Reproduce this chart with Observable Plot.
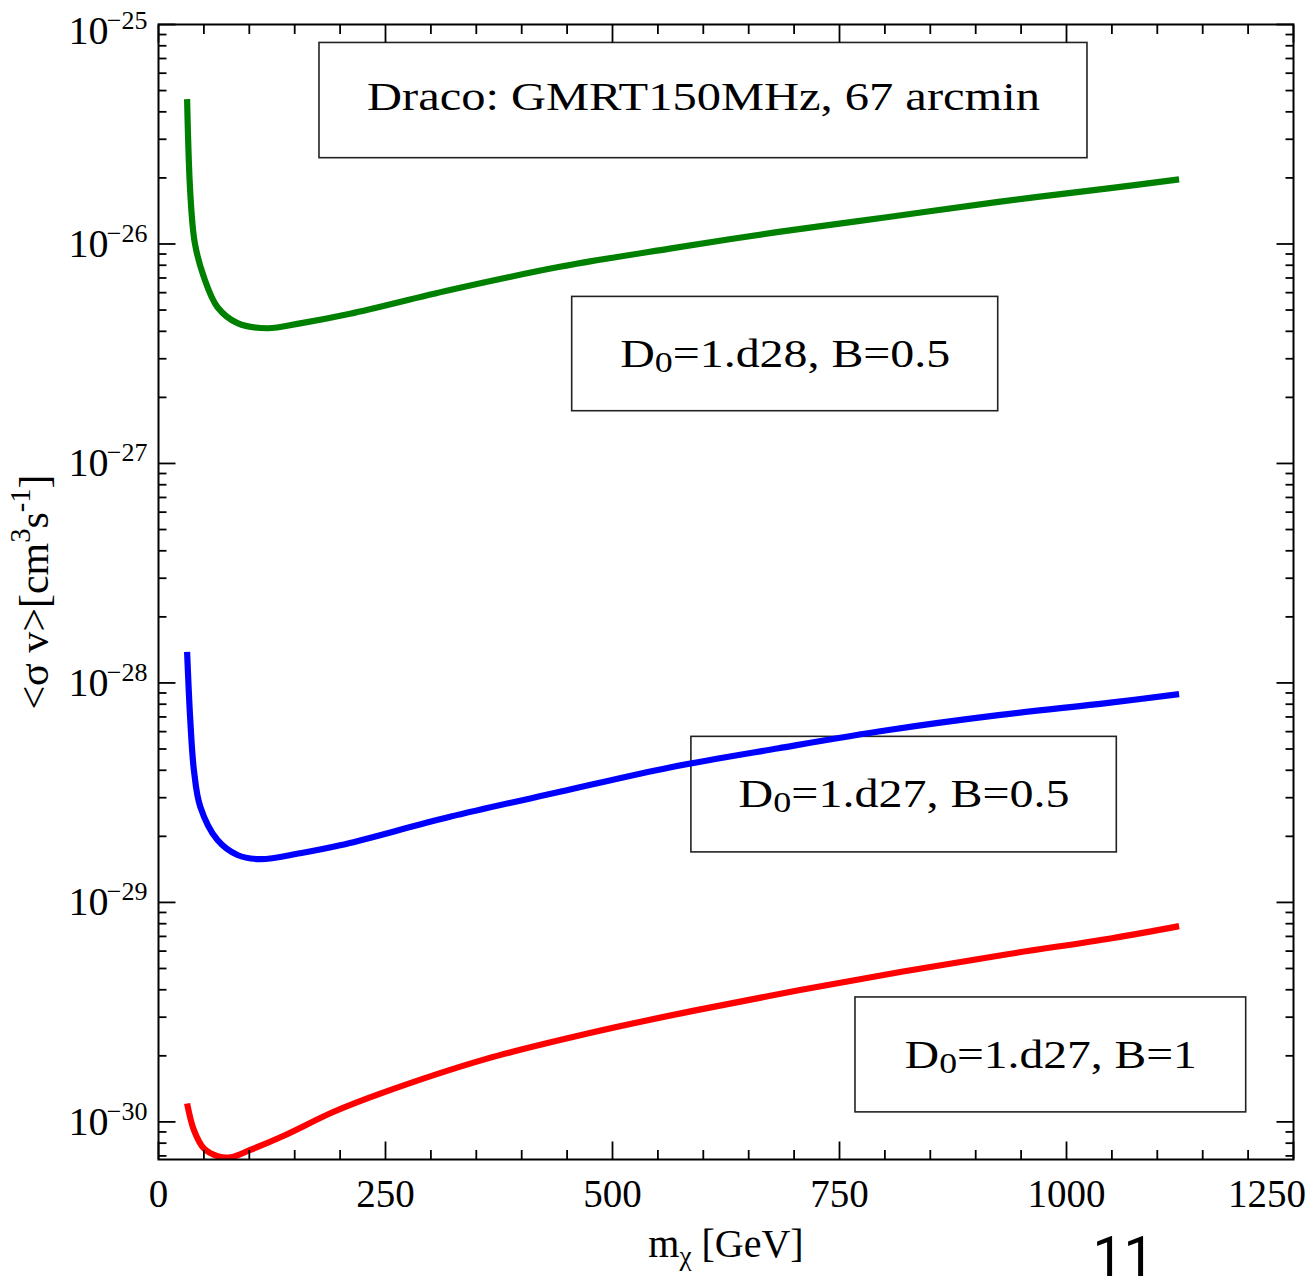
<!DOCTYPE html>
<html>
<head>
<meta charset="utf-8">
<script src="https://cdn.jsdelivr.net/npm/d3@7"></script>
<script src="https://cdn.jsdelivr.net/npm/@observablehq/plot@0.6"></script>
<style>
  html, body { margin: 0; padding: 0; background: #fff; }
  #chart svg { display: block; }
</style>
</head>
<body>
<div id="chart"></div>
<script>
// ---------- data ----------
// D0 = 1.d28, B = 0.5 (green)
const massGreen  = [31.5, 35, 40, 50, 65, 87, 120, 156, 211, 321, 442, 563, 683, 804, 925, 1046, 1124];
const sigmaGreen = [4.57e-26, 1.71e-26, 1.01e-26, 7.06e-27, 5.15e-27, 4.36e-27, 4.13e-27, 4.35e-27, 4.81e-27,
                    6.17e-27, 7.87e-27, 9.53e-27, 1.135e-26, 1.327e-26, 1.556e-26, 1.791e-26, 1.968e-26];
// D0 = 1.d27, B = 0.5 (blue)
const massBlue  = [31.5, 35, 39, 46, 65, 87, 112, 156, 200, 321, 442, 563, 683, 804, 925, 1046, 1124];
const sigmaBlue = [1.387e-28, 6.78e-29, 4.01e-29, 2.73e-29, 1.923e-29, 1.644e-29, 1.574e-29, 1.675e-29, 1.82e-29,
                   2.455e-29, 3.19e-29, 4.12e-29, 5.04e-29, 6.10e-29, 7.13e-29, 8.11e-29, 8.89e-29];
// D0 = 1.d27, B = 1 (red)
const massRed  = [31.5, 39, 50, 65, 79, 101, 138, 193, 245, 360, 475, 590, 705, 820, 935, 1050, 1124];
const sigmaRed = [1.213e-30, 9.18e-31, 7.57e-31, 6.98e-31, 6.89e-31, 7.45e-31, 8.65e-31, 1.112e-30, 1.349e-30,
                  1.932e-30, 2.541e-30, 3.214e-30, 3.981e-30, 4.842e-30, 5.808e-30, 6.871e-30, 7.80e-30];

// annotation boxes (data coordinates)
const boxLabels = ["Draco: GMRT150MHz, 67 arcmin", "D0=1.d28, B=0.5", "D0=1.d27, B=0.5", "D0=1.d27, B=1"];
const boxX1 = [177.3, 455.6, 586.9, 767.6];
const boxX2 = [1023.1, 924.8, 1055.4, 1197.9];
const boxYTop = [8.24e-26, 5.74e-27, 5.68e-29, 3.69e-30];
const boxYBot = [2.46e-26, 1.73e-27, 1.69e-29, 1.105e-30];

// axes
const xDomain = [0, 1250];
const yDomain = [6.74e-31, 1e-25];
const xTickLabels = [0, 250, 500, 750, 1000, 1250];
const yDecades = [1e-30, 1e-29, 1e-28, 1e-27, 1e-26, 1e-25];
const yExponents = ["\u221230", "\u221229", "\u221228", "\u221227", "\u221226", "\u221225"];
const xAxisTitle = "m\u03c7 [GeV]";
const yAxisTitle = "<\u03c3 v>[cm3s-1]";
const pageNumber = "11";

// ---------- derived tables ----------
const series = [
  ...massGreen.map((m, i) => ({m, sv: sigmaGreen[i], s: "green"})),
  ...massBlue.map((m, i) => ({m, sv: sigmaBlue[i], s: "blue"})),
  ...massRed.map((m, i) => ({m, sv: sigmaRed[i], s: "red"}))
];
const boxes = boxLabels.map((label, i) => ({label, x1: boxX1[i], x2: boxX2[i], y1: boxYTop[i], y2: boxYBot[i]}));
const xMinor = d3.range(50, 1250, 50).filter(v => v % 250 !== 0);
const yMinor = [];
for (let e = -31; e <= -26; e++) for (let k = 2; k <= 9; k++) {
  const v = k * Math.pow(10, e);
  if (v >= yDomain[0] && v <= yDomain[1]) yMinor.push(v);
}
const yTicks = yDecades.map((v, i) => ({v, exp: yExponents[i]}));
const blank = () => "";
const tickStyle = {tickFormat: blank, label: null, strokeWidth: 1.8};
const serif = "'Liberation Serif', Tinos, 'Times New Roman', Times, serif";
const sans = "Roboto, 'Noto Sans', Arial, Helvetica, sans-serif";
const boxCenter = {x: d => (d.x1 + d.x2) / 2, y: d => Math.sqrt(d.y1 * d.y2), text: "label", fontSize: 40};

const chart = Plot.plot({
  width: 1313,
  height: 1277,
  marginLeft: 158,
  marginRight: 20,
  marginTop: 24,
  marginBottom: 118,
  style: {fontFamily: serif, background: "#fff", color: "#000"},
  x: {domain: xDomain},
  y: {type: "log", domain: yDomain},
  marks: [
    // annotation boxes
    Plot.rect(boxes, {x1: "x1", x2: "x2", y1: "y1", y2: "y2", fill: "none", stroke: "#222", strokeWidth: 1.6}),
    Plot.text(boxes.slice(0, 1), {...boxCenter, dy: -3}),
    Plot.text(boxes.slice(1), boxCenter),
    // curves
    Plot.line(series, {x: "m", y: "sv", z: "s", stroke: d => d.s, strokeWidth: 6.2,
      curve: "catmull-rom", strokeLinecap: "butt", clip: true}),
    // frame
    Plot.frame({stroke: "#000", strokeWidth: 2}),
    // ticks (inward)
    Plot.axisX(xTickLabels, {anchor: "bottom", tickSize: 17.5, dy: -17.5, ...tickStyle}),
    Plot.axisX(xMinor, {anchor: "bottom", tickSize: 9, dy: -9, ...tickStyle}),
    Plot.axisX(xTickLabels, {anchor: "top", tickSize: 17.5, dy: 17.5, ...tickStyle}),
    Plot.axisX(xMinor, {anchor: "top", tickSize: 9, dy: 9, ...tickStyle}),
    Plot.axisY(yDecades, {anchor: "left", tickSize: 17.5, dx: 17.5, ...tickStyle}),
    Plot.axisY(yMinor, {anchor: "left", tickSize: 8.5, dx: 8.5, ...tickStyle}),
    Plot.axisY(yDecades, {anchor: "right", tickSize: 17.5, dx: -17.5, ...tickStyle}),
    Plot.axisY(yMinor, {anchor: "right", tickSize: 8.5, dx: -8.5, ...tickStyle}),
    // x tick labels
    Plot.axisX(xTickLabels.slice(0, 5), {anchor: "bottom", tickSize: 0, tickPadding: 20, fontSize: 39,
      label: null, tickFormat: d => String(d)}),
    Plot.axisX(xTickLabels.slice(5), {anchor: "bottom", tickSize: 0, tickPadding: 20, fontSize: 39,
      label: null, tickFormat: d => String(d), dx: -26.5}),
    // y tick labels: 10^exp
    Plot.text(yTicks.slice(0, 5), {y: "v", frameAnchor: "left", text: () => "10", textAnchor: "end", dx: -50, fontSize: 40}),
    Plot.text(yTicks.slice(0, 5), {y: "v", frameAnchor: "left", text: "exp", textAnchor: "end", dx: -11, dy: -10.5, fontSize: 26}),
    Plot.text(yTicks.slice(5), {y: "v", frameAnchor: "left", text: () => "10", textAnchor: "end", dx: -50, dy: 7, fontSize: 40}),
    Plot.text(yTicks.slice(5), {y: "v", frameAnchor: "left", text: "exp", textAnchor: "end", dx: -11, dy: -3.5, fontSize: 26}),
    // axis titles
    Plot.text([xAxisTitle], {text: d => d, frameAnchor: "bottom", dy: 97, fontSize: 40}),
    Plot.text([yAxisTitle], {text: d => d, frameAnchor: "left", textAnchor: "middle", rotate: -90, dx: -124, fontSize: 42}),
    // page number
    Plot.text([pageNumber], {text: d => d, frameAnchor: "bottom", dx: 397.5, dy: 116, lineAnchor: "bottom",
      fontSize: 55, fontFamily: sans})
  ]
});

// ---------- rich text (sub/superscripts) ----------
const NS = "http://www.w3.org/2000/svg";
function rich(el, parts, size) {
  el.textContent = "";
  let shift = 0;
  for (const [t, kind] of parts) {
    const ts = document.createElementNS(NS, "tspan");
    const target = kind === "sub" ? 0.12 * size : kind === "chi" ? 0.22 * size : kind === "sup" ? -0.42 * size : 0;
    if (target - shift !== 0) ts.setAttribute("dy", target - shift);
    shift = target;
    if (kind === "sub") ts.setAttribute("font-size", 0.75 * size);
    else if (kind) ts.setAttribute("font-size", 0.68 * size);
    ts.textContent = t;
    el.appendChild(ts);
  }
}
const stretch = {
  "Draco: GMRT150MHz, 67 arcmin": 673,
  "D0=1.d28, B=0.5": 330,
  "D0=1.d27, B=0.5": 331,
  "D0=1.d27, B=1": 292
};
chart.querySelectorAll("text").forEach(el => {
  const t = el.textContent;
  if (t.startsWith("D0=")) rich(el, [["D"], ["0", "sub"], [t.slice(2)]], 40);
  if (stretch[t]) {
    el.setAttribute("textLength", stretch[t]);
    el.setAttribute("lengthAdjust", "spacingAndGlyphs");
  }
  if (t === xAxisTitle) rich(el, [["m"], ["\u03c7", "chi"], [" [GeV]"]], 40);
  if (t === yAxisTitle) rich(el, [["<\u03c3 v>[cm"], ["3", "sup"], ["s"], ["-1", "sup"], ["]"]], 42);
  if (t === pageNumber) el.setAttribute("font-family", sans);
});

document.getElementById("chart").append(chart);
</script>
</body>
</html>
